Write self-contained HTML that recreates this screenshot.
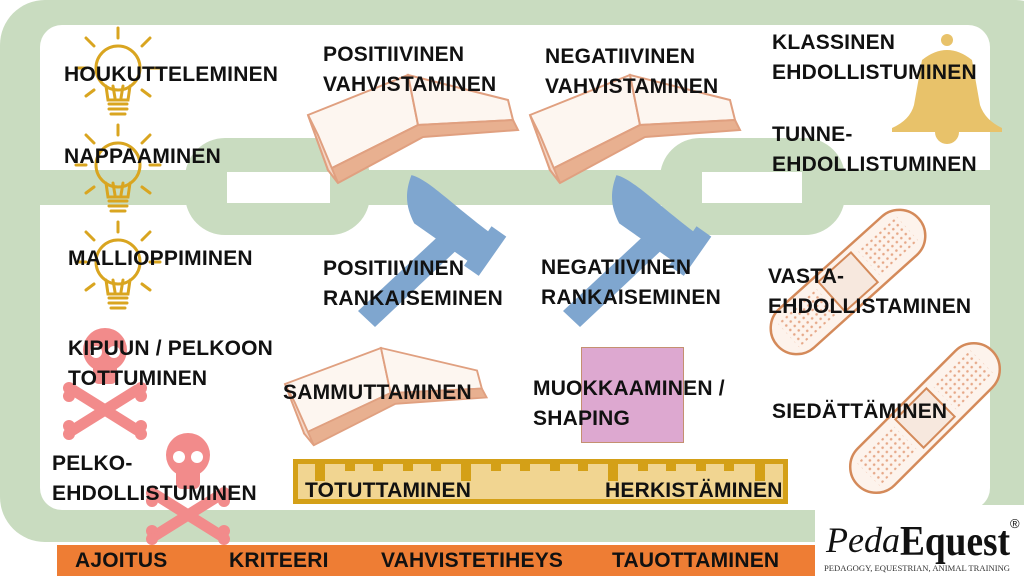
<!DOCTYPE html>
<html><head><meta charset="utf-8"><style>
html,body{margin:0;padding:0;background:#fff;}
#c{position:relative;width:1024px;height:576px;overflow:hidden;font-family:"Liberation Sans",sans-serif;}
.t{position:absolute;font-weight:bold;font-size:21px;line-height:30px;color:#111;white-space:nowrap;letter-spacing:0.2px;}
svg{position:absolute;left:0;top:0;}
</style></head><body><div id="c">
<svg width="1024" height="576" viewBox="0 0 1024 576">
<defs>
<g id="bulb" fill="none" stroke="#d9a520" stroke-width="3" stroke-linecap="round">
<circle cx="0" cy="0" r="22"/>
<path d="M-12,18 L-10,32 L10,32 L12,18"/>
<path d="M-9,36 H9 M-9,41 H9 M-7,46 H7 M-5,18 L-3,30 M5,18 L3,30"/>
<path d="M0,-30 V-40 M-24,-22 L-32,-30 M24,-22 L32,-30 M-32,0 H-42 M32,0 H42 M-24,22 L-32,28 M24,22 L32,28"/>
</g>
<g id="book" fill="#fff" stroke="#e0a080" stroke-width="2">
<path d="M0,40 L100,0 L110,50 L20,95 Z" fill="#fdf6f0"/>
<path d="M100,0 L200,25 L205,45 L110,50 Z" fill="#fdf6f0"/>
<path d="M20,95 L110,50 L205,45 L210,55 L115,62 L30,108 Z" fill="#e8b090" stroke="#e0a080"/>
<path d="M0,40 L20,95 L30,108 L10,60 Z" fill="#f5d8c8"/>
</g>
<g id="hammer" fill="#7fa6cf">
<path d="M-4,-6 L12,10 L-75,92 L-92,76 Z"/>
<g transform="translate(-5,-12) rotate(35)">
<path d="M-55,-20 C-40,-26 -10,-20 40,-18 L40,-24 L58,-24 L58,24 L40,24 L40,18 L-25,18 C-40,10 -50,0 -55,-20 Z"/>
</g>
</g>
<g id="band">
<rect x="-95" y="-26" width="190" height="52" rx="26" fill="#fdf3ec" stroke="#d48a5a" stroke-width="2.5"/>
<rect x="-22" y="-20" width="44" height="40" fill="#f7e8de" stroke="#d48a5a" stroke-width="2"/>
<rect x="-80" y="-16" width="52" height="32" fill="url(#dots)"/><rect x="28" y="-16" width="52" height="32" fill="url(#dots)"/>
</g>
<pattern id="dots" width="6" height="6" patternUnits="userSpaceOnUse"><circle cx="3" cy="3" r="1.3" fill="#e6a888"/></pattern>
<g id="skull" fill="#f28b8b">
<path d="M-32,40 L32,80 M32,40 L-32,80" stroke="#f28b8b" stroke-width="11" stroke-linecap="round"/>
<circle cx="-36" cy="38" r="6"/><circle cx="-36" cy="46" r="6"/><circle cx="36" cy="38" r="6"/><circle cx="36" cy="46" r="6"/>
<circle cx="-36" cy="76" r="6"/><circle cx="-36" cy="84" r="6"/><circle cx="36" cy="76" r="6"/><circle cx="36" cy="84" r="6"/>
<ellipse cx="0" cy="0" rx="22" ry="22"/>
<rect x="-12" y="12" width="24" height="22" rx="6"/>
<circle cx="-9" cy="2" r="6" fill="#fff"/><circle cx="9" cy="2" r="6" fill="#fff"/>
</g>
</defs>
<rect x="0" y="0" width="1060" height="542" rx="45" fill="#c9dcc0"/>
<rect x="40" y="25" width="950" height="485" rx="22" fill="#fff"/>
<rect x="815" y="505" width="209" height="71" fill="#fff"/>
<rect x="40" y="170" width="950" height="35" fill="#c9dcc0"/>
<rect x="185" y="138" width="185" height="97" rx="40" fill="#c9dcc0"/>
<rect x="227" y="172" width="103" height="31" fill="#fff"/>
<rect x="660" y="138" width="185" height="97" rx="40" fill="#c9dcc0"/>
<rect x="702" y="172" width="100" height="31" fill="#fff"/>
<rect x="57" y="545" width="758" height="31" fill="#ee7d34"/>
<use href="#bulb" transform="translate(118,68)"/>
<use href="#bulb" transform="translate(118,165)"/>
<use href="#bulb" transform="translate(118,262)"/>
<use href="#book" transform="translate(308,75)"/>
<use href="#book" transform="translate(530,75)"/>
<use href="#book" transform="translate(285,348) scale(0.96,0.9)"/>
<use href="#hammer" transform="translate(450,235)"/>
<use href="#hammer" transform="translate(655,235)"/>
<use href="#band" transform="translate(848,282) rotate(-42)"/>
<use href="#band" transform="translate(925,418) rotate(-45)"/>
<use href="#skull" transform="translate(105,350)"/>
<use href="#skull" transform="translate(188,455)"/>
<g fill="#e8c26a">
<circle cx="947" cy="40" r="6"/>
<path d="M922,60 Q947,40 972,60 L980,105 Q985,120 1002,128 L1002,132 L892,132 L892,128 Q910,120 914,105 Z"/>
<path d="M935,132 A12,12 0 0 0 959,132 Z"/>
</g>
<rect x="581.5" y="347.5" width="102" height="95" fill="#dda8d0" stroke="#c49070" stroke-width="1"/>
<rect x="295.5" y="461.5" width="490" height="40" fill="#f1d591" stroke="#d4a017" stroke-width="5"/>
<g fill="#d4a017">
<rect x="315" y="461" width="10" height="20"/><rect x="461" y="461" width="10" height="20"/><rect x="608" y="461" width="10" height="20"/><rect x="755" y="461" width="10" height="20"/>
<rect x="345" y="461" width="10" height="10"/><rect x="373" y="461" width="10" height="10"/><rect x="403" y="461" width="10" height="10"/><rect x="431" y="461" width="10" height="10"/>
<rect x="491" y="461" width="10" height="10"/><rect x="520" y="461" width="10" height="10"/><rect x="550" y="461" width="10" height="10"/><rect x="578" y="461" width="10" height="10"/>
<rect x="638" y="461" width="10" height="10"/><rect x="666" y="461" width="10" height="10"/><rect x="696" y="461" width="10" height="10"/><rect x="724" y="461" width="10" height="10"/>
</g>
<text x="826" y="552" font-family="Liberation Serif,serif" font-style="italic" font-size="36" fill="#111">Peda</text>
<text x="900" y="555" font-family="Liberation Serif,serif" font-weight="bold" font-size="42" fill="#111" textLength="110" lengthAdjust="spacingAndGlyphs">Equest</text>
<text x="1010" y="528" font-family="Liberation Sans,sans-serif" font-size="13" fill="#111">®</text>
<text x="824" y="571" font-family="Liberation Serif,serif" font-size="8" fill="#333" textLength="186" lengthAdjust="spacingAndGlyphs">PEDAGOGY, EQUESTRIAN, ANIMAL TRAINING</text>
</svg>
<div class="t" style="left:64px;top:60px">HOUKUTTELEMINEN</div>
<div class="t" style="left:64px;top:142px">NAPPAAMINEN</div>
<div class="t" style="left:68px;top:244px">MALLIOPPIMINEN</div>
<div class="t" style="left:68px;top:334px">KIPUUN / PELKOON<br>TOTTUMINEN</div>
<div class="t" style="left:52px;top:449px">PELKO-<br>EHDOLLISTUMINEN</div>
<div class="t" style="left:323px;top:40px">POSITIIVINEN<br>VAHVISTAMINEN</div>
<div class="t" style="left:545px;top:42px">NEGATIIVINEN<br>VAHVISTAMINEN</div>
<div class="t" style="left:772px;top:28px">KLASSINEN<br>EHDOLLISTUMINEN</div>
<div class="t" style="left:772px;top:120px">TUNNE-<br>EHDOLLISTUMINEN</div>
<div class="t" style="left:323px;top:254px">POSITIIVINEN<br>RANKAISEMINEN</div>
<div class="t" style="left:541px;top:253px">NEGATIIVINEN<br>RANKAISEMINEN</div>
<div class="t" style="left:768px;top:262px">VASTA-<br>EHDOLLISTAMINEN</div>
<div class="t" style="left:283px;top:378px">SAMMUTTAMINEN</div>
<div class="t" style="left:533px;top:374px">MUOKKAAMINEN /<br>SHAPING</div>
<div class="t" style="left:772px;top:397px">SIEDÄTTÄMINEN</div>
<div class="t" style="left:305px;top:476px">TOTUTTAMINEN</div>
<div class="t" style="left:605px;top:476px">HERKISTÄMINEN</div>
<div class="t" style="left:75px;top:546px">AJOITUS</div>
<div class="t" style="left:229px;top:546px">KRITEERI</div>
<div class="t" style="left:381px;top:546px">VAHVISTETIHEYS</div>
<div class="t" style="left:612px;top:546px">TAUOTTAMINEN</div>
</div></body></html>
